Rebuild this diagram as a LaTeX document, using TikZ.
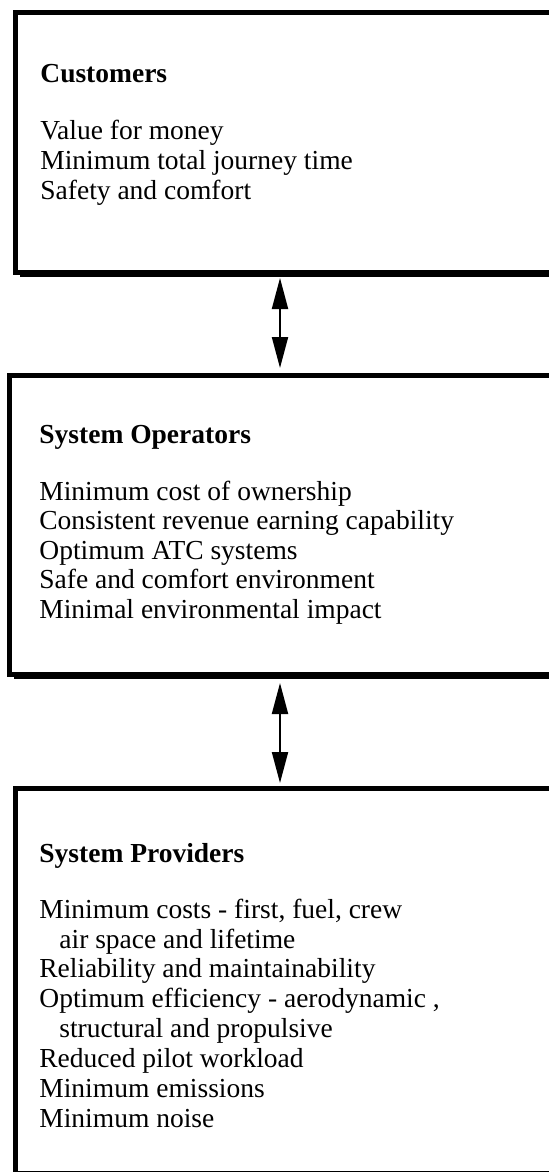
\documentclass[tikz,border=0pt]{standalone}
\usepackage{fontspec}
\setmainfont{Liberation Serif}
\usetikzlibrary{arrows.meta,shadows}
\begin{document}
\begin{tikzpicture}[x=0.5pt,y=-0.5pt,
  box/.style={draw, line width=2.5pt, fill=white, inner sep=0pt,
    general shadow={fill=black, shadow xshift=2.2pt, shadow yshift=-2.2pt}},
  head/.style={anchor=base west, inner sep=0pt,
    font=\fontsize{13.75pt}{14.75pt}\selectfont\bfseries},
  item/.style={anchor=base west, inner sep=0pt,
    font=\fontsize{13.75pt}{14.75pt}\selectfont},
  link/.style={{Triangle[length=15.5pt,width=8pt]}-{Triangle[length=15.5pt,width=8pt]},
    line width=1pt}]
\useasboundingbox (0,0) rectangle (549,1172);
\clip (0,0) rectangle (549,1172);

% the three stakeholder boxes (they run on past the right edge)
\node[box, minimum width=291pt, minimum height=130pt]   (cust) at (306.5,142.5) {};
\node[box, minimum width=294pt, minimum height=149.5pt] (oper) at (303.5,525) {};
\node[box, minimum width=291pt, minimum height=192.5pt] (prov) at (306.5,981) {};

% two-way links between the levels
\coordinate (ax) at (280,0);
\draw[link, shorten <=1.5pt, shorten >=2.5pt] (cust.south -| ax) -- (oper.north -| ax);
\draw[link, shorten <=3pt, shorten >=1.5pt] (oper.south -| ax) -- (prov.north -| ax);

% Customers
\node[head] (custH) at (40,83)    {Customers};
\node[item] (cust1) at (40,140)   {Value for money};
\node[item] (cust2) at (40,169.5) {Minimum total journey time};
\node[item] (cust3) at (40,199)   {Safety and comfort};

% System Operators
\node[head] (operH) at (39,443)   {System Operators};
\node[item] (oper1) at (39,500)   {Minimum cost of ownership};
\node[item] (oper2) at (39,529.5) {Consistent revenue earning capability};
\node[item] (oper3) at (39,559)   {Optimum ATC systems};
\node[item] (oper4) at (39,588.5) {Safe and comfort environment};
\node[item] (oper5) at (39,618)   {Minimal environmental impact};

% System Providers
\node[head] (provH) at (39,862)  {System Providers};
\node[item] (prov1) at (39,918)  {Minimum costs - first, fuel, crew};
\node[item] (prov2) at (59,948)  {air space and lifetime};
\node[item] (prov3) at (39,977)  {Reliability and maintainability};
\node[item] (prov4) at (39,1007) {Optimum efficiency - aerodynamic ,};
\node[item] (prov5) at (59,1037) {structural and propulsive};
\node[item] (prov6) at (39,1067) {Reduced pilot workload};
\node[item] (prov7) at (39,1097) {Minimum emissions};
\node[item] (prov8) at (39,1127) {Minimum noise};
\end{tikzpicture}
\end{document}
